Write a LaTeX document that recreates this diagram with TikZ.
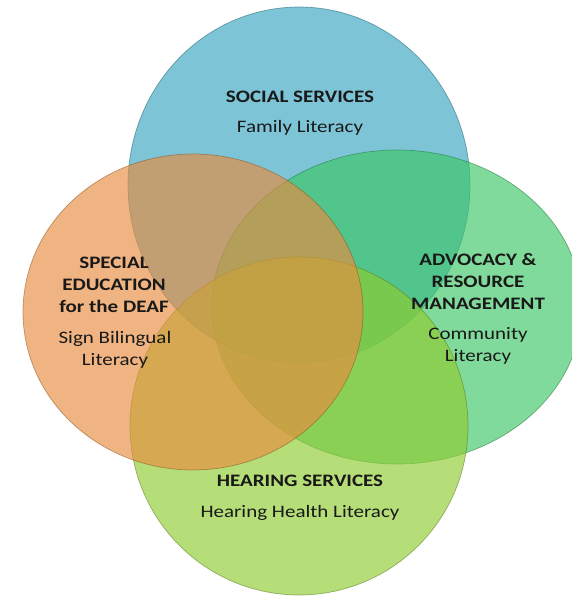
\documentclass[tikz,border=0pt]{standalone}
\usepackage{fontspec}
\setmainfont[FakeStretch=1.2]{Carlito}
\definecolor{cblue}{RGB}{55,164,192}
\definecolor{cgreen}{RGB}{60,198,101}
\definecolor{cbot}{RGB}{143,204,47}
\definecolor{corange}{RGB}{232,140,63}
\definecolor{ink}{RGB}{25,25,25}
\tikzset{
  venn/.style={fill=#1, draw=#1!60!black, fill opacity=0.65, draw opacity=0.55, line width=0.7pt},
  ttl/.style={font=\bfseries\fontsize{17.5}{22}\selectfont, align=center, text=ink, inner sep=0pt},
  sub/.style={font=\fontsize{17.5}{22}\selectfont, align=center, text=ink, inner sep=0pt}
}
\begin{document}
\begin{tikzpicture}[x=1pt,y=-1pt]
\useasboundingbox (0,0) rectangle (571,597);
% circles (drawn top, right, bottom, left)
\path[venn=cblue]   (299,185) ellipse [x radius=171pt, y radius=178pt];
\path[venn=cgreen]  (397,307) ellipse [x radius=185pt, y radius=157pt];
\path[venn=cbot]    (299,426) ellipse [x radius=169pt, y radius=169pt];
\path[venn=corange] (193,312) ellipse [x radius=170pt, y radius=158pt];
% texts
\node[ttl] (socT) at (300,97) {SOCIAL SERVICES};
\node[sub] (socS) at (300,128) {Family Literacy};
\node[ttl] (sedT) at (114,285) {SPECIAL\\EDUCATION\\for the DEAF};
\node[sub] (sedS) at (115,350) {Sign Bilingual\\Literacy};
\node[ttl] (advT) at (478,282) {ADVOCACY \&\\RESOURCE\\MANAGEMENT};
\node[sub] (advS) at (478,346) {Community\\Literacy};
\node[ttl] (hsT) at (300,481) {HEARING SERVICES};
\node[sub] (hsS) at (300,513) {Hearing Health Literacy};
\end{tikzpicture}
\end{document}
